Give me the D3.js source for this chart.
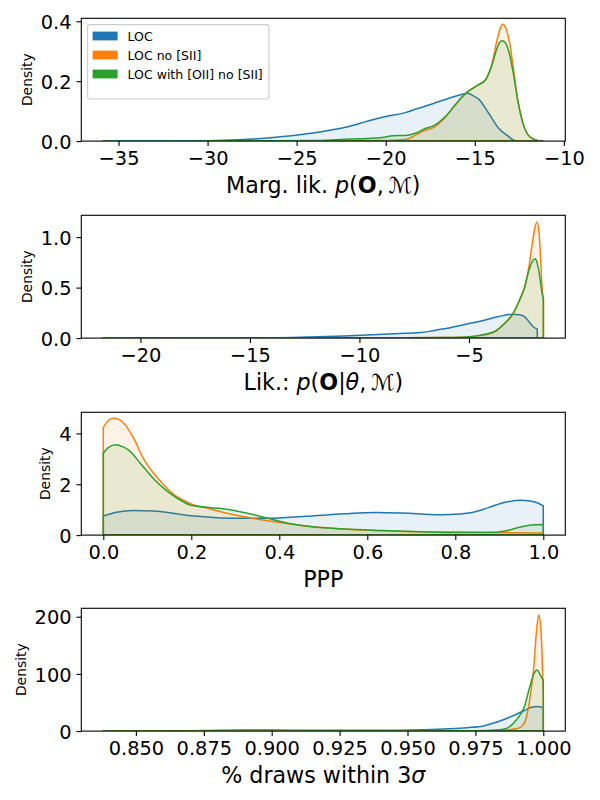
<!DOCTYPE html>
<html>
<head>
<meta charset="utf-8">
<script src="https://cdn.jsdelivr.net/npm/d3@7"></script>
<style>
html,body{margin:0;padding:0;background:#fff;}
svg{display:block;font-family:"DejaVu Sans",sans-serif;}
</style>
</head>
<body>
<svg id="chart" width="600" height="800"></svg>
<script>
// ---------- DATA ----------
const seriesNames = ["LOC", "LOC no [SII]", "LOC with [OII] no [SII]"];
const seriesColors = ["#1f77b4", "#ff7f0e", "#2ca02c"];

// Panel 1: marginal likelihood
const margLikLOC = [[-35.85,0],[-32,0.0005],[-29.5,0.002],[-28,0.005],[-27,0.009],[-26,0.014],[-24.85,0.021],[-23.9,0.029],[-23,0.038],[-22.05,0.049],[-21.1,0.065],[-20,0.082],[-18.9,0.095],[-18.3,0.107],[-17.4,0.124],[-16.45,0.143],[-15.8,0.155],[-15.4,0.16],[-15.1,0.152],[-14.78,0.14],[-14.22,0.093],[-13.66,0.043],[-13.1,0.015],[-12.9,0.006],[-12.6,0.0]];
const margLikNoSII = [[-29,0],[-24,0.001],[-21,0.002],[-19.5,0.003],[-18.9,0.005],[-18.3,0.021],[-17.75,0.037],[-17.4,0.043],[-16.65,0.08],[-16.1,0.12],[-15.5,0.16],[-14.8,0.188],[-14.4,0.205],[-14.03,0.26],[-13.75,0.338],[-13.55,0.38],[-13.43,0.39],[-13.25,0.375],[-13.05,0.33],[-12.85,0.25],[-12.6,0.14],[-12.3,0.06],[-12.0,0.02],[-11.6,0.004],[-11.15,0]];
const margLikOII = [[-35.85,0],[-30,0.0005],[-26,0.001],[-24,0.002],[-23,0.004],[-22.05,0.007],[-21,0.009],[-20.2,0.012],[-19.6,0.018],[-18.9,0.019],[-18.3,0.027],[-17.75,0.043],[-17.4,0.049],[-16.65,0.082],[-16.1,0.121],[-15.5,0.16],[-14.8,0.188],[-14.4,0.204],[-14.03,0.255],[-13.75,0.31],[-13.55,0.333],[-13.45,0.335],[-13.25,0.325],[-13.05,0.29],[-12.85,0.23],[-12.6,0.14],[-12.3,0.06],[-12.0,0.02],[-11.6,0.004],[-11.2,0]];

// Panel 2: likelihood
const likLOC = [[-21.7,0],[-16,0.001],[-14,0.003],[-12.4,0.01],[-10.7,0.02],[-8.9,0.037],[-7.9,0.047],[-7.2,0.055],[-6.6,0.075],[-6.0,0.097],[-5.1,0.14],[-4.4,0.172],[-3.9,0.2],[-3.4,0.225],[-3.0,0.237],[-2.7,0.232],[-2.45,0.21],[-2.25,0.16],[-2.05,0.11],[-1.88,0.09]];
const likNoSII = [[-21.7,0],[-12,0.001],[-8,0.003],[-6,0.006],[-5.1,0.012],[-4.5,0.025],[-4.2,0.036],[-3.8,0.065],[-3.4,0.14],[-3.0,0.235],[-2.7,0.37],[-2.45,0.51],[-2.25,0.72],[-2.12,0.92],[-2.0,1.08],[-1.9,1.15],[-1.8,1.05],[-1.72,0.75],[-1.66,0.5],[-1.6,0.39]];
const likOII = [[-21.7,0],[-12,0.001],[-8,0.003],[-6,0.006],[-5.1,0.012],[-4.5,0.027],[-4.2,0.04],[-3.8,0.07],[-3.4,0.14],[-3.0,0.24],[-2.7,0.37],[-2.45,0.51],[-2.25,0.68],[-2.1,0.76],[-1.97,0.785],[-1.88,0.74],[-1.78,0.63],[-1.68,0.47],[-1.6,0.38]];

// Panel 3: PPP
const pppLOC = [[0,0.75],[0.03,0.9],[0.068,0.97],[0.113,0.95],[0.2,0.76],[0.31,0.66],[0.374,0.66],[0.46,0.74],[0.547,0.84],[0.62,0.89],[0.678,0.87],[0.765,0.8],[0.81,0.83],[0.838,0.89],[0.875,1.08],[0.913,1.29],[0.951,1.37],[0.981,1.30],[1.0,1.15]];
const pppNoSII = [[0,4.24],[0.011,4.5],[0.022,4.6],[0.034,4.56],[0.045,4.43],[0.068,3.84],[0.09,3.05],[0.113,2.46],[0.136,2.0],[0.158,1.63],[0.2,1.23],[0.243,1.03],[0.287,0.84],[0.374,0.56],[0.46,0.36],[0.547,0.24],[0.634,0.17],[0.721,0.13],[0.808,0.12],[0.895,0.1],[0.95,0.09],[1.0,0.08]];
const pppOII = [[0,3.22],[0.012,3.45],[0.028,3.55],[0.045,3.47],[0.06,3.31],[0.083,2.85],[0.113,2.24],[0.143,1.76],[0.17,1.43],[0.2,1.17],[0.243,1.08],[0.287,1.0],[0.33,0.85],[0.374,0.66],[0.417,0.48],[0.46,0.36],[0.547,0.24],[0.634,0.18],[0.721,0.13],[0.808,0.1],[0.875,0.1],[0.913,0.16],[0.951,0.33],[0.98,0.41],[1.0,0.42]];

// Panel 4: % draws within 3 sigma
const drawsLOC = [[0.838,0],[0.86,0.3],[0.875,1],[0.89,2],[0.9,1.8],[0.92,1.3],[0.94,1.3],[0.956,2.5],[0.965,4],[0.972,6],[0.978,9],[0.983,16],[0.989,27],[0.993,36],[0.996,42],[0.9975,43],[1.0,41]];
const drawsNoSII = [[0.838,0],[0.95,0.2],[0.975,0.5],[0.985,1.5],[0.99,4],[0.992,8],[0.9935,20],[0.995,55],[0.9965,112],[0.9975,175],[0.9983,203],[0.999,185],[0.9995,140],[1.0,60]];
const drawsOII = [[0.838,0],[0.95,0.3],[0.975,0.8],[0.983,2],[0.986,4],[0.99,19],[0.993,42],[0.995,77],[0.9965,100],[0.9977,107],[0.9989,98],[1.0,89]];

// Axis domains and tick values
const xDomains = [[-37.09,-9.92],[-22.7,-0.6],[-0.05,1.05],[0.8299,1.0081]];
const yDomains = [[0,0.41],[0,1.216],[0,4.83],[0,214.7]];
const xTicks = [[-35,-30,-25,-20,-15,-10],[-20,-15,-10,-5],[0,0.2,0.4,0.6,0.8,1.0],[0.85,0.875,0.9,0.925,0.95,0.975,1.0]];
const yTicks = [[0,0.2,0.4],[0,0.5,1.0],[0,2,4],[0,100,200]];
const xFormats = [".0f",".0f",".1f",".3f"];
const yFormats = [".1f",".1f",".0f",".0f"];
const yLabel = "Density";

// ---------- DRAW ----------
const svg = d3.select("#chart");
const L = 81.3, R = 565.3, PH = 122.8;
const tops = [18.3, 215.3, 412.3, 608.3];
const allData = [
  [margLikLOC, margLikNoSII, margLikOII],
  [likLOC, likNoSII, likOII],
  [pppLOC, pppNoSII, pppOII],
  [drawsLOC, drawsNoSII, drawsOII]
];
const minus = s => s.replace(/-/g, "\u2212");

allData.forEach((series, i) => {
  const top = tops[i], bottom = top + PH;
  const x = d3.scaleLinear().domain(xDomains[i]).range([L, R]);
  const y = d3.scaleLinear().domain(yDomains[i]).range([bottom, top]);
  const g = svg.append("g");

  const clipId = "clip" + i;
  svg.append("clipPath").attr("id", clipId).append("rect")
    .attr("x", L).attr("y", top).attr("width", R - L).attr("height", PH);

  const line = d3.line().x(d => x(d[0])).y(d => y(d[1])).curve(d3.curveMonotoneX);
  const plot = g.append("g").attr("clip-path", `url(#${clipId})`);
  series.forEach((data, s) => {
    const first = data[0], last = data[data.length - 1];
    const p = line(data) + `L${x(last[0])},${y(0)}L${x(first[0])},${y(0)}Z`;
    plot.append("path").attr("d", p)
      .attr("fill", seriesColors[s]).attr("fill-opacity", 0.1)
      .attr("stroke", seriesColors[s]).attr("stroke-width", 1.5)
      .attr("stroke-linejoin", "round");
  });

  // x axis
  const xf = d3.format(xFormats[i]);
  const xAxis = d3.axisBottom(x).tickValues(xTicks[i]).tickSize(4.86).tickPadding(4.86)
    .tickFormat(d => minus(xf(d)));
  const xg = g.append("g").attr("transform", `translate(0,${bottom})`).call(xAxis);
  xg.select(".domain").remove();
  xg.selectAll("line").attr("stroke", "#000").attr("stroke-width", 1.1);
  xg.selectAll("text").attr("font-size", "19.4px").attr("font-family", "DejaVu Sans").attr("fill", "#000")
    .attr("dy", null).attr("y", 24.4);

  // y axis
  const yf = d3.format(yFormats[i]);
  const yAxis = d3.axisLeft(y).tickValues(yTicks[i]).tickSize(4.86).tickPadding(4.86)
    .tickFormat(d => minus(yf(d)));
  const yg = g.append("g").attr("transform", `translate(${L},0)`).call(yAxis);
  yg.select(".domain").remove();
  yg.selectAll("line").attr("stroke", "#000").attr("stroke-width", 1.1);
  yg.selectAll("text").attr("font-size", "19.4px").attr("font-family", "DejaVu Sans").attr("fill", "#000")
    .attr("dy", null).attr("y", 7.1);

  // frame
  g.append("rect").attr("x", L).attr("y", top).attr("width", R - L).attr("height", PH)
    .attr("fill", "none").attr("stroke", "#000").attr("stroke-width", 1.1);

  // y label
  let maxW = 0;
  yg.selectAll("text").each(function(){ maxW = Math.max(maxW, this.getComputedTextLength()); });
  const lx = L - 9.72 - maxW - 5.6 - 3.2;
  g.append("text").attr("transform", `translate(${lx},${(top + bottom) / 2}) rotate(-90)`)
    .attr("text-anchor", "middle").attr("font-size", "13.9px").attr("fill", "#000").text(yLabel);

  // x label
  const xl = g.append("text").attr("x", (L + R) / 2).attr("y", bottom + 51.5)
    .attr("text-anchor", "middle").attr("font-size", "22.2px").attr("fill", "#000");
  if (i === 0) {
    xl.append("tspan").text("Marg. lik. ");
    xl.append("tspan").attr("font-style", "italic").text("p");
    xl.append("tspan").text("(");
    xl.append("tspan").attr("font-weight", "bold").text("O");
    xl.append("tspan").text(",\u2009");
    xl.append("tspan").text("\u2133");
    xl.append("tspan").text(")");
  } else if (i === 1) {
    xl.append("tspan").text("Lik.: ");
    xl.append("tspan").attr("font-style", "italic").text("p");
    xl.append("tspan").text("(");
    xl.append("tspan").attr("font-weight", "bold").text("O");
    xl.append("tspan").text("|");
    xl.append("tspan").attr("font-style", "italic").text("\u03b8");
    xl.append("tspan").text(",\u2009");
    xl.append("tspan").text("\u2133");
    xl.append("tspan").text(")");
  } else if (i === 2) {
    xl.text("PPP");
  } else {
    xl.append("tspan").text("% draws within 3");
    xl.append("tspan").attr("font-style", "italic").text("\u03c3");
  }

  // legend on first panel
  if (i === 0) {
    const lg = g.append("g");
    lg.append("rect").attr("x", 87.6).attr("y", 24.6).attr("width", 181.3).attr("height", 74.4)
      .attr("rx", 2.5).attr("fill", "#fff").attr("fill-opacity", 0.8)
      .attr("stroke", "#cccccc").attr("stroke-width", 1.1);
    seriesNames.forEach((n, s) => {
      const cy = 36 + s * 19;
      lg.append("rect").attr("x", 92.6).attr("y", cy - 4.4).attr("width", 25).attr("height", 8.8)
        .attr("fill", seriesColors[s]);
      lg.append("text").attr("x", 127.6).attr("y", cy + 4.5).attr("font-size", "12.5px")
        .attr("fill", "#000").text(n);
    });
  }
});
</script>
</body>
</html>
